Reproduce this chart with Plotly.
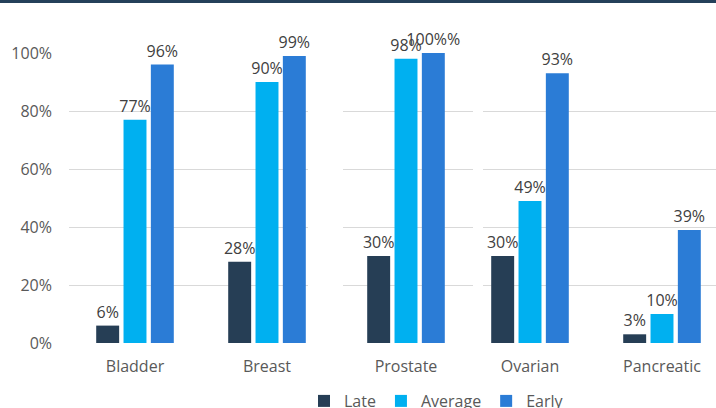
import plotly.graph_objects as go

# ---- data ----
categories = ["Bladder", "Breast", "Prostate", "Ovarian", "Pancreatic"]
late = [6, 28, 30, 30, 3]
average = [77, 90, 98, 49, 10]
early = [96, 99, 100, 93, 39]
series_names = ["Late", "Average", "Early"]
y_ticks = [0, 20, 40, 60, 80, 100]

# panels (the reference is assembled from three chart pieces)
panels = [[0, 1], [2], [3, 4]]

colors = {"Late": "#263E55", "Average": "#00B0F0", "Early": "#2B7CD6"}
series_vals = {"Late": late, "Average": average, "Early": early}

W, H = 716, 408
ML, MR, MT, MB = 69, 0, 53, 65
PW = W - ML - MR
PH = H - MT - MB

fig = go.Figure()
for p, idxs in enumerate(panels):
    xa = "x" if p == 0 else f"x{p + 1}"
    for name in series_names:
        vals = series_vals[name]
        fig.add_trace(go.Bar(
            x=[categories[i] for i in idxs],
            y=[vals[i] for i in idxs],
            name=name,
            marker=dict(color=colors[name], line=dict(width=8, color="rgba(255,255,255,0)")),
            xaxis=xa, yaxis="y",
            showlegend=(p == 0),
            legendgroup=name,
            texttemplate="%{y}%",
            textposition="outside",
            cliponaxis=False,
            constraintext="none",
            textfont=dict(size=16, color="#404040", family="Open Sans"),
            hoverinfo="skip",
        ))

def dom(a, b):
    return [(a - ML) / PW, (b - ML) / PW]

px_per_cat = 132.0
xcommon = dict(showgrid=False, zeroline=False, showline=False, ticks="",
               type="category", tickfont=dict(size=16, color="#595959"),
               ticklabelstandoff=12, fixedrange=True)

fig.update_layout(
    width=W, height=H,
    margin=dict(l=ML, r=MR, t=MT, b=MB, autoexpand=False),
    paper_bgcolor="white", plot_bgcolor="white",
    font=dict(family="Open Sans", size=16, color="#595959"),
    barmode="group", bargap=0.379, bargroupgap=0.16,
    xaxis=dict(domain=dom(69, 308), range=[-(135 - 69) / px_per_cat, (308 - 135) / px_per_cat], anchor="y", **xcommon),
    xaxis2=dict(domain=dom(343, 473), range=[-(406 - 343) / px_per_cat, (473 - 406) / px_per_cat], anchor="y", **xcommon),
    xaxis3=dict(domain=dom(483, 716), range=[-(530 - 483) / px_per_cat, (716 - 530) / px_per_cat], anchor="y", **xcommon),
    yaxis=dict(range=[0, 100], tickvals=y_ticks, ticktext=[f"{v}%" for v in y_ticks],
               gridcolor="#D9D9D9", gridwidth=1, zeroline=False, showline=False,
               ticks="", ticklabelstandoff=16, tickfont=dict(size=16, color="#595959"),
               anchor="x", fixedrange=True),
    legend=dict(orientation="h", x=(304 - ML) / PW, xanchor="left",
                y=-(384 - (MT + PH)) / PH, yanchor="top",
                font=dict(size=16, color="#595959"), bgcolor="rgba(0,0,0,0)",
                traceorder="normal"),
    shapes=[dict(type="rect", xref="paper", yref="paper",
                 x0=-ML / PW, x1=1, y0=1 + (MT - 3) / PH, y1=1 + (MT + 1) / PH,
                 fillcolor="#24405A", line=dict(width=0), layer="above")],
)

fig.write_html("out.html")
